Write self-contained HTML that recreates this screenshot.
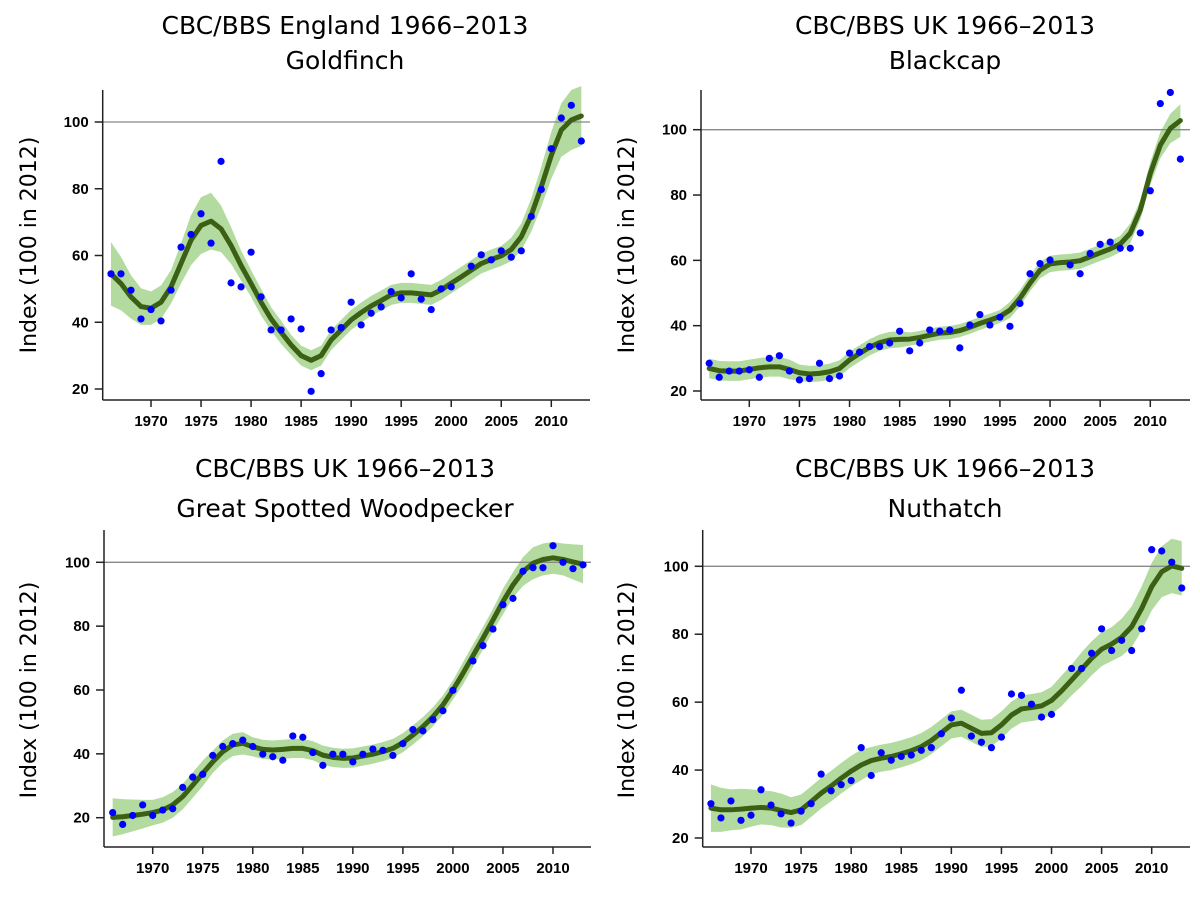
<!DOCTYPE html>
<html><head><meta charset="utf-8">
<style>
body{margin:0;background:#fff;}
svg{display:block;}
.t{font-family:"DejaVu Sans","Liberation Sans",sans-serif;font-size:25px;fill:#000;}
.tk{font-family:"Liberation Sans",sans-serif;font-size:15px;font-weight:bold;fill:#000;}
.yt{font-family:"DejaVu Sans","Liberation Sans",sans-serif;font-size:22px;fill:#000;}
</style></head>
<body>
<svg id="root" width="1200" height="898" viewBox="0 0 1200 898" xmlns="http://www.w3.org/2000/svg"></svg>
<script>
const years=[];for(let y=1966;y<=2013;y++)years.push(y);
const xTicks=[1970,1975,1980,1985,1990,1995,2000,2005,2010];
const yTicks=[20,40,60,80,100];
const titles1=["CBC/BBS England 1966–2013","CBC/BBS UK 1966–2013","CBC/BBS UK 1966–2013","CBC/BBS UK 1966–2013"];
const titles2=["Goldfinch","Blackcap","Great Spotted Woodpecker","Nuthatch"];
const goldfinchPts=[54.5,54.5,49.6,41,43.8,40.4,49.6,62.5,66.3,72.5,63.7,88.2,51.8,50.6,61,47.6,37.7,37.7,41,38,19.3,24.6,37.7,38.4,46,39.2,42.7,44.6,49.2,47.3,54.5,46.9,43.8,50,50.6,null,56.8,60.2,58.7,61.4,59.5,61.4,71.7,79.8,92,101.2,105,94.3];
const goldfinchTrend=[54.5,51.6,47.6,44.7,44.2,46,50.6,57.6,64.6,69,70.3,68,63,57,51.6,46,41,37,33.2,30,28.6,30,34.7,37.7,40.7,42.9,44.9,46.5,48.2,48.8,48.8,48.5,48.2,49.7,51.7,53.6,55.6,57.6,58.8,59.9,61.8,65.6,72.1,80.6,90,97.6,100.6,101.8];
const goldfinchCI=[9.5,8,6.5,5.5,5,5,5,6,7.5,8.5,8.5,7,5.5,4.5,4,4,3.5,3.5,3,3,3,3,3,3,3,3,3,3,3,3,3,3,3,3,3,3,3,3,3,3,3.5,4,5,6,7,8,9,9];
const blackcapPts=[28.5,24.2,26.1,26.1,26.5,24.2,30,30.8,26.1,23.4,23.8,28.5,23.8,24.6,31.6,31.9,33.6,33.6,34.7,38.3,32.3,34.7,38.7,38.3,38.7,33.2,40.2,43.4,40.2,42.6,39.8,46.8,55.9,59,60.1,null,58.6,55.9,62.1,64.9,65.6,63.7,63.7,68.4,81.3,108,111.4,91];
const blackcapTrend=[26.9,26.2,26.1,26.1,26.6,27.1,27.4,27.4,26.6,25.6,25.2,25.4,25.9,26.9,29.5,31.5,33.4,34.8,35.6,35.8,35.9,36.4,37.1,37.7,37.9,38.5,39.5,40.7,41.7,42.8,44.8,48.4,53,57,58.9,59.3,59.5,59.9,61.1,62.3,63.5,65,68.3,75.4,86.6,95.3,100.4,102.8];
const blackcapCI=[3,3,3,3,3,3,3,3,3,2.5,2.5,2.5,2.5,2.5,2.5,2.5,2.5,2.5,2.5,2.5,2,2,2,2,2,2,2,2,2,2,2.5,2.5,2.5,2.5,2.5,2.5,2.5,2.5,2.5,2.5,2.5,2.5,3,3,3.5,4,4.5,5];
const gswPts=[21.6,17.9,20.7,24,20.7,22.4,22.8,29.5,32.7,33.6,39.5,42.3,43.2,44.3,42.3,39.9,39.1,38,45.6,45.2,40.4,36.4,39.9,39.9,37.5,39.9,41.5,41.1,39.5,43.2,47.6,47.2,50.7,53.5,59.9,null,69.1,73.9,79.1,86.7,88.7,97.2,98.3,98.3,105.2,100,98,99.2];
const gswTrend=[20.1,20.3,20.7,21.1,21.6,22.4,24,26.6,30.2,33.9,37.5,40.7,42.8,43.3,42.2,41.4,41.2,41.4,41.7,41.7,41,39.6,38.9,38.6,38.7,39.3,39.9,40.7,41.7,43.5,45.9,48.5,51.6,55.3,60,65.2,70.7,76.2,81.9,87.7,92.9,97.1,99.7,100.9,101.4,100.9,100.1,99.4];
const gswCI=[6,5.5,5,4.5,4,4,4,4,4,4,3.5,3.5,3.5,3.5,3,3,3,3,3,3,3,3,3,3,3,3,3,3,3,3,3,3,3,3,3,3.5,3.5,3.5,3.5,4,4,4.5,5,5,5,5,5.5,6];
const nutPts=[30.1,25.9,30.9,25.2,26.7,34.2,29.7,27.1,24.4,27.9,30.1,38.8,33.9,35.7,36.9,46.6,38.4,45.1,42.9,44,44.4,45.8,46.6,50.7,55.3,63.5,50,48.2,46.6,49.7,62.4,62,59.4,55.6,56.4,null,69.9,69.9,74.4,81.6,75.2,78.2,75.2,81.6,104.9,104.5,101.2,93.6];
const nutTrend=[28.8,28.3,28.3,28.5,28.8,29,28.8,28.1,27.5,28.3,30.7,33.2,35.3,37.6,39.7,41.5,42.8,43.5,44,44.8,45.7,46.9,48.7,51,53.3,53.8,52.3,50.8,51,53.3,56.2,58,58.4,58.9,60.5,63.3,66.5,69.7,72.9,75.6,77.1,79.1,82.2,87.6,94,98.4,100.1,99.4];
const nutCI=[7,6.5,6,6,5.5,5,5,5,4.5,4.5,4.5,4.5,4.5,4.5,4.5,4.5,4,4,4,4,4,4,4,4,4,4,4,4,4,4,4,4,4,4,4,4.5,4.5,5,5,5,5,5.5,6,6.5,7,7.5,8,8];

const panels=[
 {name:"goldfinch",pts:goldfinchPts,trend:goldfinchTrend,ci:goldfinchCI,ax:102.7,bot:400,x0:151,x1:551.3,y100:122,y20:389,top:90,right:590,tcx:345,t1:25,t2:60,ytc:245,ytx:36},
 {name:"blackcap",pts:blackcapPts,trend:blackcapTrend,ci:blackcapCI,ax:701,bot:400,x0:749.3,x1:1150.3,y100:129.7,y20:391,top:90,right:1190,tcx:945,t1:25,t2:60,ytc:245,ytx:634},
 {name:"great-spotted-woodpecker",pts:gswPts,trend:gswTrend,ci:gswCI,ax:104,bot:847,x0:152.7,x1:553,y100:562.3,y20:817.7,top:530,right:591,tcx:345,t1:468,t2:508,ytc:690,ytx:36},
 {name:"nuthatch",pts:nutPts,trend:nutTrend,ci:nutCI,ax:702.7,bot:847,x0:751,x1:1151.7,y100:566.3,y20:838,top:530,right:1190,tcx:945,t1:468,t2:508,ytc:690,ytx:634}
];
const NS="http://www.w3.org/2000/svg";
const root=document.getElementById('root');
function mk(tag,parent,attrs){const e=document.createElementNS(NS,tag);for(const k in attrs)e.setAttribute(k,attrs[k]);parent.appendChild(e);return e;}

panels.forEach((p,i)=>{
 const g=mk('g',root,{});
 
 
 const X=y=>p.x0+(y-1970)*(p.x1-p.x0)/40;
 const Y=v=>p.y20+(v-20)*(p.y100-p.y20)/80;
 const ta=mk('text',g,{x:p.tcx,y:p.t1+9,'text-anchor':'middle',class:'t'});ta.textContent=titles1[i];
 
 
 const tb=mk('text',g,{x:p.tcx,y:p.t2+9,'text-anchor':'middle',class:'t'});tb.textContent=titles2[i];
 
 
 const yt=mk('text',g,{x:0,y:0,'text-anchor':'middle',class:'yt',transform:`translate(${p.ytx},${p.ytc}) rotate(-90)`});yt.textContent="Index (100 in 2012)";
 
 
 let up=[],lo=[];
 years.forEach((y,k)=>{up.push(X(y)+','+Y(p.trend[k]+p.ci[k]));lo.unshift(X(y)+','+Y(p.trend[k]-p.ci[k]));});
 const band=mk('polygon',g,{points:up.concat(lo).join(' '),fill:'#b3dba0'});
 
 
 const ref=mk('line',g,{x1:p.ax,x2:p.right,y1:Y(100),y2:Y(100),stroke:'#888',"stroke-width":1.3});
 
 
 const tr=mk('polyline',g,{points:years.map((y,k)=>X(y)+','+Y(p.trend[k])).join(' '),fill:'none',stroke:'#3b6014','stroke-width':5,'stroke-linejoin':'round','stroke-linecap':'round'});
 
 
 years.forEach((y,k)=>{const v=p.pts[k];if(v==null)return;
  const c=mk('circle',g,{cx:X(y),cy:Y(v),r:3.6,fill:'#0000ff'});
  
  
 });
 const ya=mk('line',g,{x1:p.ax,x2:p.ax,y1:p.top,y2:p.bot,stroke:'#222','stroke-width':1.5});
 
 
 const xa=mk('line',g,{x1:p.ax,x2:p.right,y1:p.bot,y2:p.bot,stroke:'#222','stroke-width':1.5});
 
 
 yTicks.forEach(v=>{
  mk('line',g,{x1:p.ax-8,x2:p.ax,y1:Y(v),y2:Y(v),stroke:'#222','stroke-width':1.5});
  const l=mk('text',g,{x:p.ax-14,y:Y(v)+5,'text-anchor':'end',class:'tk'});l.textContent=v;
  
  
 });
 xTicks.forEach(y=>{
  mk('line',g,{x1:X(y),x2:X(y),y1:p.bot,y2:p.bot+7,stroke:'#222','stroke-width':1.5});
  const l=mk('text',g,{x:X(y),y:p.bot+26,'text-anchor':'middle',class:'tk'});l.textContent=y;
  
  
 });
});
</script>
</body></html>
